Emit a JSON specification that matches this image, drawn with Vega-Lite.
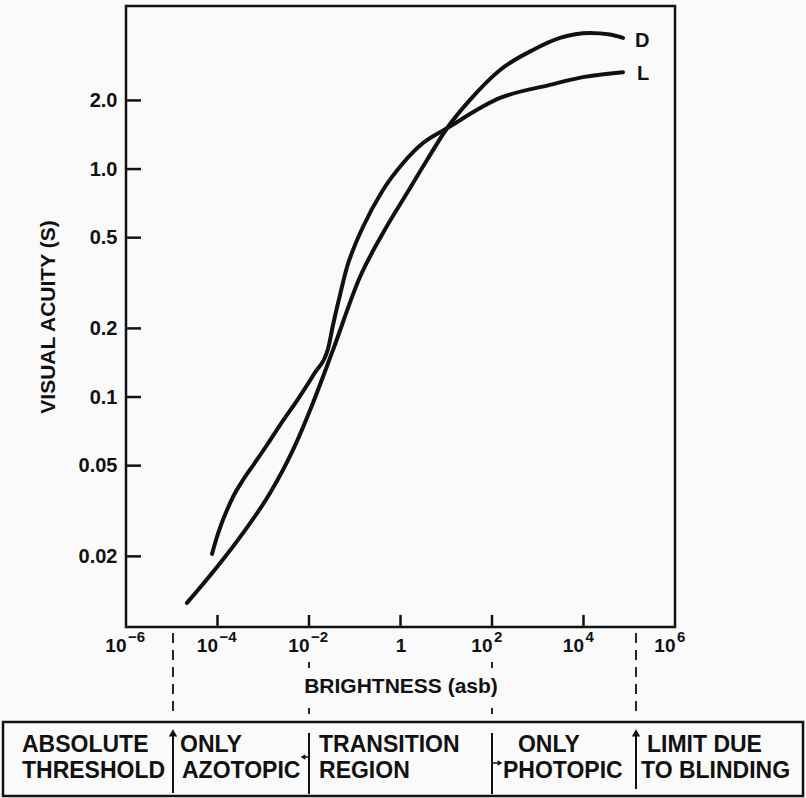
{
  "$schema": "https://vega.github.io/schema/vega-lite/v6.json",
  "width": 549,
  "height": 621,
  "autosize": {"type": "none"},
  "padding": {"left": 126, "top": 6, "right": 131, "bottom": 171},
  "background": "#fafafa",
  "config": {
    "font": "Liberation Sans",
    "view": {"stroke": "#111", "strokeWidth": 2.5},
    "axis": {
      "domain": false,
      "grid": false,
      "ticks": false,
      "labelColor": "#111",
      "labelFont": "Liberation Sans",
      "labelFontWeight": "bold",
      "titleColor": "#111",
      "titleFont": "Liberation Sans",
      "titleFontWeight": "bold",
      "labelOverlap": false,
      "labelFlush": false
    }
  },
  "datasets": {
    "curves": [
      {"curve": "D", "b": 2.15e-5, "s": 0.0125},
      {"curve": "D", "b": 9.75e-5, "s": 0.01796},
      {"curve": "D", "b": 3.6e-4, "s": 0.0253},
      {"curve": "D", "b": 1.41e-3, "s": 0.0379},
      {"curve": "D", "b": 4.47e-3, "s": 0.0586},
      {"curve": "D", "b": 0.0122, "s": 0.0942},
      {"curve": "D", "b": 0.0335, "s": 0.161},
      {"curve": "D", "b": 0.13, "s": 0.336},
      {"curve": "D", "b": 0.414, "s": 0.524},
      {"curve": "D", "b": 1.39, "s": 0.785},
      {"curve": "D", "b": 3.8, "s": 1.096},
      {"curve": "D", "b": 10.4, "s": 1.51},
      {"curve": "D", "b": 33, "s": 2.01},
      {"curve": "D", "b": 150, "s": 2.72},
      {"curve": "D", "b": 787, "s": 3.33},
      {"curve": "D", "b": 3063, "s": 3.76},
      {"curve": "D", "b": 13870, "s": 3.95},
      {"curve": "D", "b": 37930, "s": 3.89},
      {"curve": "D", "b": 73000, "s": 3.76},
      {"curve": "L", "b": 7.6e-5, "s": 0.0205},
      {"curve": "L", "b": 9.27e-5, "s": 0.0236},
      {"curve": "L", "b": 1.193e-4, "s": 0.02746},
      {"curve": "L", "b": 1.613e-4, "s": 0.03194},
      {"curve": "L", "b": 2.294e-4, "s": 0.03717},
      {"curve": "L", "b": 3.608e-4, "s": 0.04325},
      {"curve": "L", "b": 6.28e-4, "s": 0.05083},
      {"curve": "L", "b": 1.208e-3, "s": 0.06159},
      {"curve": "L", "b": 2.569e-3, "s": 0.07768},
      {"curve": "L", "b": 5.748e-3, "s": 0.09799},
      {"curve": "L", "b": 0.01286, "s": 0.1262},
      {"curve": "L", "b": 0.026, "s": 0.1625},
      {"curve": "L", "b": 0.03346, "s": 0.2069},
      {"curve": "L", "b": 0.0476, "s": 0.2802},
      {"curve": "L", "b": 0.0678, "s": 0.372},
      {"curve": "L", "b": 0.1013, "s": 0.4642},
      {"curve": "L", "b": 0.151, "s": 0.557},
      {"curve": "L", "b": 0.414, "s": 0.809},
      {"curve": "L", "b": 1.13, "s": 1.06},
      {"curve": "L", "b": 3.1, "s": 1.3},
      {"curve": "L", "b": 10.4, "s": 1.51},
      {"curve": "L", "b": 150, "s": 2.05},
      {"curve": "L", "b": 1853, "s": 2.34},
      {"curve": "L", "b": 9750, "s": 2.53},
      {"curve": "L", "b": 73000, "s": 2.66}
    ],
    "tickLines": [
      {"id": "y002", "b": 1e-6, "s": 0.02}, {"id": "y002", "b": 2.13e-6, "s": 0.02},
      {"id": "y005", "b": 1e-6, "s": 0.05}, {"id": "y005", "b": 2.13e-6, "s": 0.05},
      {"id": "y01", "b": 1e-6, "s": 0.1}, {"id": "y01", "b": 2.13e-6, "s": 0.1},
      {"id": "y02", "b": 1e-6, "s": 0.2}, {"id": "y02", "b": 2.13e-6, "s": 0.2},
      {"id": "y05", "b": 1e-6, "s": 0.5}, {"id": "y05", "b": 2.13e-6, "s": 0.5},
      {"id": "y1", "b": 1e-6, "s": 1}, {"id": "y1", "b": 2.13e-6, "s": 1},
      {"id": "y2", "b": 1e-6, "s": 2}, {"id": "y2", "b": 2.13e-6, "s": 2},
      {"id": "xm4", "b": 1e-4, "s": 0.0098}, {"id": "xm4", "b": 1e-4, "s": 0.01107},
      {"id": "xm2", "b": 1e-2, "s": 0.0098}, {"id": "xm2", "b": 1e-2, "s": 0.01107},
      {"id": "x0", "b": 1, "s": 0.0098}, {"id": "x0", "b": 1, "s": 0.01107},
      {"id": "x2", "b": 100, "s": 0.0098}, {"id": "x2", "b": 100, "s": 0.01107},
      {"id": "x4", "b": 1e4, "s": 0.0098}, {"id": "x4", "b": 1e4, "s": 0.01107}
    ],
    "curveLabels": [
      {"label": "D", "b": 1.336e5, "s": 3.43},
      {"label": "L", "b": 1.476e5, "s": 2.457}
    ],
    "exponents": [
      {"b": 1e-6, "s": 0.008424, "exp": "−6"},
      {"b": 1e-4, "s": 0.008424, "exp": "−4"},
      {"b": 1e-2, "s": 0.008424, "exp": "−2"},
      {"b": 100, "s": 0.008424, "exp": "2"},
      {"b": 1e4, "s": 0.008424, "exp": "4"},
      {"b": 1e6, "s": 0.008424, "exp": "6"}
    ],
    "outerGuides": [
      {"b": 1.064e-5, "s": 0.009226, "s2": 0.003909},
      {"b": 1.405e5, "s": 0.009226, "s2": 0.003909}
    ],
    "innerGuides": [
      {"b": 0.01, "s": 0.006883, "s2": 0.003991},
      {"b": 100, "s": 0.006883, "s2": 0.003991}
    ],
    "box": [
      {"b": 2.05e-9, "b2": 6.28e8, "s": 0.003755, "s2": 0.001778}
    ],
    "separators": [
      {"b": 1.064e-5, "s": 0.003292, "s2": 0.001833},
      {"b": 0.01, "s": 0.00336, "s2": 0.001815},
      {"b": 100, "s": 0.00336, "s2": 0.001815},
      {"b": 1.405e5, "s": 0.003292, "s2": 0.001909}
    ],
    "stems": [
      {"b": 0.0074, "b2": 0.01, "s": 0.002636, "s2": 0.002636},
      {"b": 100, "b2": 149.6, "s": 0.002481, "s2": 0.002481}
    ],
    "arrows": [
      {"b": 1.064e-5, "s": 0.00336, "shape": "triangle-up", "size": 70},
      {"b": 1.405e5, "s": 0.00336, "shape": "triangle-up", "size": 70},
      {"b": 0.0074, "s": 0.002636, "shape": "triangle-left", "size": 30},
      {"b": 149.6, "s": 0.002481, "shape": "triangle-right", "size": 30}
    ],
    "notes": [
      {"label": "ABSOLUTE", "b": 5.33e-9, "s": 0.002773},
      {"label": "THRESHOLD", "b": 5.33e-9, "s": 0.002133},
      {"label": "ONLY", "b": 1.514e-5, "s": 0.002773},
      {"label": "AZOTOPIC", "b": 1.675e-5, "s": 0.002133},
      {"label": "TRANSITION", "b": 0.01656, "s": 0.002773},
      {"label": "REGION", "b": 0.01656, "s": 0.002133},
      {"label": "ONLY", "b": 369.8, "s": 0.002773},
      {"label": "PHOTOPIC", "b": 173.8, "s": 0.002133},
      {"label": "LIMIT DUE", "b": 2.44e5, "s": 0.002773},
      {"label": "TO BLINDING", "b": 1.81e5, "s": 0.002133}
    ]
  },
  "layer": [
    {
      "data": {"name": "curves"},
      "mark": {"type": "line", "interpolate": "monotone", "color": "#111", "strokeWidth": 4, "strokeCap": "round", "clip": false},
      "encoding": {
        "x": {
          "field": "b", "type": "quantitative",
          "scale": {"type": "log", "domain": [1e-6, 1e6], "nice": false},
          "axis": {
            "values": [1e-6, 1e-4, 1e-2, 1, 100, 1e4, 1e6],
            "labelExpr": "datum.value > 0.1 && datum.value < 10 ? '1' : '10'",
            "labelAlign": {"condition": {"test": "datum.value > 0.1 && datum.value < 10", "value": "center"}, "value": "right"},
            "labelFontSize": 19,
            "labelPadding": 9,
            "title": "BRIGHTNESS (asb)",
            "titleFontSize": 21,
            "titlePadding": 20
          }
        },
        "y": {
          "field": "s", "type": "quantitative",
          "scale": {"type": "log", "domain": [0.0098, 5.19], "nice": false},
          "axis": {
            "values": [0.02, 0.05, 0.1, 0.2, 0.5, 1, 2],
            "labelExpr": "datum.value >= 1.5 ? '2.0' : datum.value >= 0.75 ? '1.0' : datum.value >= 0.3 ? '0.5' : datum.value >= 0.15 ? '0.2' : datum.value >= 0.075 ? '0.1' : datum.value >= 0.03 ? '0.05' : '0.02'",
            "labelFontSize": 20,
            "labelPadding": 9,
            "title": "VISUAL ACUITY (S)",
            "titleFontSize": 21,
            "titlePadding": 20
          }
        },
        "detail": {"field": "curve"}
      }
    },
    {
      "data": {"name": "tickLines"},
      "mark": {"type": "line", "interpolate": "linear", "color": "#111", "strokeWidth": 2.5, "strokeCap": "butt", "clip": false},
      "encoding": {
        "x": {"field": "b", "type": "quantitative", "scale": {"type": "log", "domain": [1e-6, 1e6], "nice": false}},
        "y": {"field": "s", "type": "quantitative", "scale": {"type": "log", "domain": [0.0098, 5.19], "nice": false}},
        "detail": {"field": "id"}
      }
    },
    {
      "data": {"name": "exponents"},
      "mark": {"type": "text", "align": "left", "baseline": "alphabetic", "dx": 2, "font": "Liberation Sans", "fontWeight": "bold", "fontSize": 15, "color": "#111", "clip": false},
      "encoding": {
        "x": {"field": "b", "type": "quantitative", "scale": {"type": "log", "domain": [1e-6, 1e6], "nice": false}},
        "y": {"field": "s", "type": "quantitative", "scale": {"type": "log", "domain": [0.0098, 5.19], "nice": false}},
        "text": {"field": "exp"}
      }
    },
    {
      "data": {"name": "curveLabels"},
      "mark": {"type": "text", "align": "left", "baseline": "alphabetic", "font": "Liberation Sans", "fontWeight": "bold", "fontSize": 20, "color": "#111", "clip": false},
      "encoding": {
        "x": {"field": "b", "type": "quantitative", "scale": {"type": "log", "domain": [1e-6, 1e6], "nice": false}},
        "y": {"field": "s", "type": "quantitative", "scale": {"type": "log", "domain": [0.0098, 5.19], "nice": false}},
        "text": {"field": "label"}
      }
    },
    {
      "data": {"name": "outerGuides"},
      "mark": {"type": "rule", "color": "#111", "strokeWidth": 1.8, "strokeDash": [10, 7], "clip": false},
      "encoding": {
        "x": {"field": "b", "type": "quantitative", "scale": {"type": "log", "domain": [1e-6, 1e6], "nice": false}},
        "y": {"field": "s", "type": "quantitative", "scale": {"type": "log", "domain": [0.0098, 5.19], "nice": false}},
        "y2": {"field": "s2"}
      }
    },
    {
      "data": {"name": "innerGuides"},
      "mark": {"type": "rule", "color": "#111", "strokeWidth": 1.8, "strokeDash": [6, 40], "clip": false},
      "encoding": {
        "x": {"field": "b", "type": "quantitative", "scale": {"type": "log", "domain": [1e-6, 1e6], "nice": false}},
        "y": {"field": "s", "type": "quantitative", "scale": {"type": "log", "domain": [0.0098, 5.19], "nice": false}},
        "y2": {"field": "s2"}
      }
    },
    {
      "data": {"name": "box"},
      "mark": {"type": "rect", "fill": null, "fillOpacity": 0, "stroke": "#111", "strokeWidth": 2.5, "clip": false},
      "encoding": {
        "x": {"field": "b", "type": "quantitative", "scale": {"type": "log", "domain": [1e-6, 1e6], "nice": false}},
        "x2": {"field": "b2"},
        "y": {"field": "s", "type": "quantitative", "scale": {"type": "log", "domain": [0.0098, 5.19], "nice": false}},
        "y2": {"field": "s2"}
      }
    },
    {
      "data": {"name": "separators"},
      "mark": {"type": "rule", "color": "#111", "strokeWidth": 2, "clip": false},
      "encoding": {
        "x": {"field": "b", "type": "quantitative", "scale": {"type": "log", "domain": [1e-6, 1e6], "nice": false}},
        "y": {"field": "s", "type": "quantitative", "scale": {"type": "log", "domain": [0.0098, 5.19], "nice": false}},
        "y2": {"field": "s2"}
      }
    },
    {
      "data": {"name": "stems"},
      "mark": {"type": "rule", "color": "#111", "strokeWidth": 1.5, "clip": false},
      "encoding": {
        "x": {"field": "b", "type": "quantitative", "scale": {"type": "log", "domain": [1e-6, 1e6], "nice": false}},
        "x2": {"field": "b2"},
        "y": {"field": "s", "type": "quantitative", "scale": {"type": "log", "domain": [0.0098, 5.19], "nice": false}},
        "y2": {"field": "s2"}
      }
    },
    {
      "data": {"name": "arrows"},
      "mark": {"type": "point", "filled": true, "color": "#111", "opacity": 1, "clip": false},
      "encoding": {
        "x": {"field": "b", "type": "quantitative", "scale": {"type": "log", "domain": [1e-6, 1e6], "nice": false}},
        "y": {"field": "s", "type": "quantitative", "scale": {"type": "log", "domain": [0.0098, 5.19], "nice": false}},
        "shape": {"field": "shape", "type": "nominal", "scale": null},
        "size": {"field": "size", "type": "quantitative", "scale": null}
      }
    },
    {
      "data": {"name": "notes"},
      "mark": {"type": "text", "align": "left", "baseline": "alphabetic", "font": "Liberation Sans", "fontWeight": "bold", "fontSize": 23, "color": "#111", "clip": false},
      "encoding": {
        "x": {"field": "b", "type": "quantitative", "scale": {"type": "log", "domain": [1e-6, 1e6], "nice": false}},
        "y": {"field": "s", "type": "quantitative", "scale": {"type": "log", "domain": [0.0098, 5.19], "nice": false}},
        "text": {"field": "label"}
      }
    }
  ]
}
